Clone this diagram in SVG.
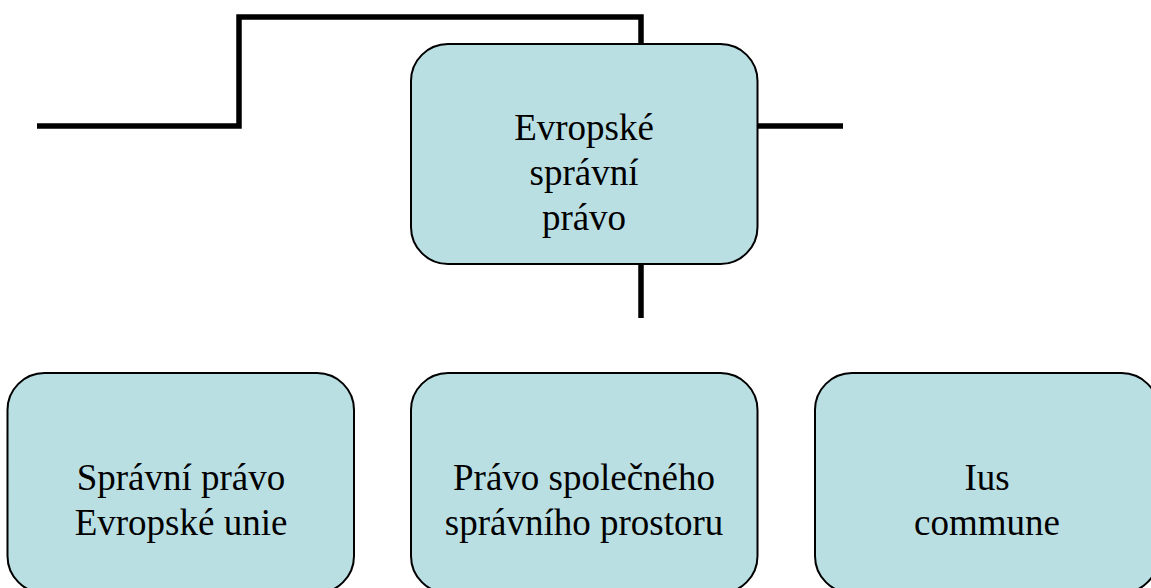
<svg xmlns="http://www.w3.org/2000/svg" width="1151" height="588" viewBox="0 0 1151 588">
<style>
.box{fill:#BADFE3;stroke:#000;stroke-width:2}
.lbl{font-family:"Liberation Serif","Times New Roman",serif;font-size:37px;fill:#000;text-anchor:middle}
.con{fill:none;stroke:#000;stroke-width:5.5;stroke-linejoin:miter;stroke-linecap:butt}
</style>
<rect width="1151" height="588" fill="#fff"/>
<g id="connectors">
<path class="con" d="M37,126 H239 V17 H641 V44"/>
<path class="con" d="M757.5,126 H843"/>
<path class="con" d="M641,264 V318"/>
</g>
<g id="node-root">
<rect class="box" x="411" y="44" width="346.5" height="220" rx="37" ry="37"/>
<text class="lbl" x="584" y="140">Evropské</text>
<text class="lbl" x="584" y="185">správní</text>
<text class="lbl" x="584" y="230">právo</text>
</g>
<g id="node-eu">
<rect class="box" x="7.5" y="373" width="346.5" height="220" rx="37" ry="37"/>
<text class="lbl" x="181" y="490">Správní právo</text>
<text class="lbl" x="181" y="535">Evropské unie</text>
</g>
<g id="node-space">
<rect class="box" x="411" y="373" width="346.5" height="220" rx="37" ry="37"/>
<text class="lbl" x="584" y="490">Právo společného</text>
<text class="lbl" x="584" y="535">správního prostoru</text>
</g>
<g id="node-ius">
<rect class="box" x="815" y="373" width="343.5" height="220" rx="37" ry="37"/>
<text class="lbl" x="987" y="490">Ius</text>
<text class="lbl" x="987" y="535">commune</text>
</g>
</svg>
